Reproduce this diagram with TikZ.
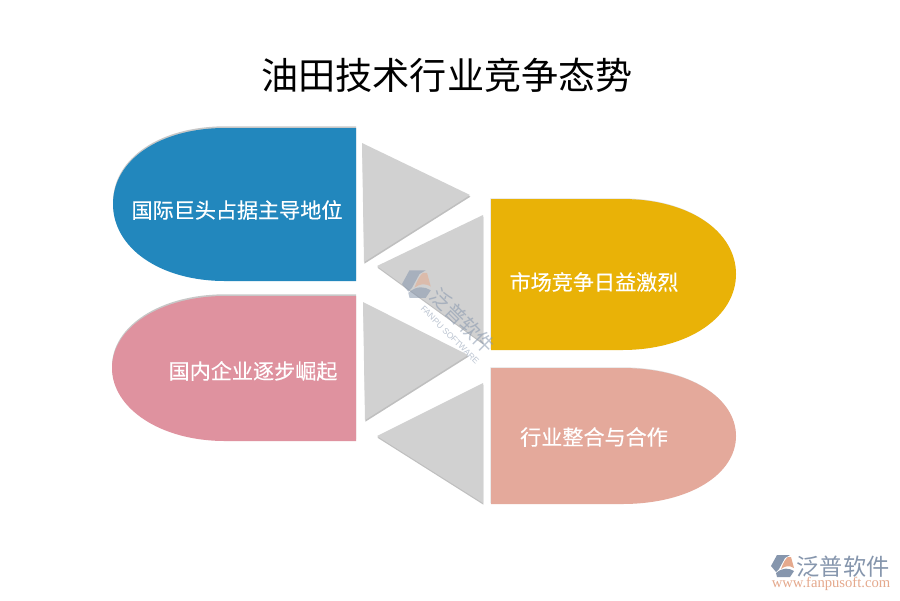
\documentclass[tikz,border=0pt]{standalone}
\usepackage{fontspec}
\newfontfamily\cjk{Noto Sans CJK SC}
\newfontfamily\cjkheavy[FakeBold=0.3]{Noto Sans CJK SC}
\setmainfont{Liberation Serif}
\setsansfont{Liberation Sans}
\usetikzlibrary{shadows}
\definecolor{tiblue}{HTML}{2287BD}
\definecolor{tiyellow}{HTML}{E9B207}
\definecolor{tipink}{HTML}{DF929F}
\definecolor{tisalmon}{HTML}{E4A99B}
\definecolor{tigray}{HTML}{D1D1D1}
\definecolor{logoblue}{HTML}{8696AD}
\definecolor{logored}{HTML}{E5A98D}
\tikzset{
	lefttab/.style={general shadow={shadow xshift=0pt,shadow yshift=1.2pt,fill=black,opacity=0.22}},
	righttab/.style={general shadow={shadow xshift=-0.5pt,shadow yshift=0.5pt,fill=black,opacity=0.12}},
	wedge/.style={fill=tigray,general shadow={shadow xshift=0.3pt,shadow yshift=-1.2pt,fill=black,opacity=0.25}},
	boxtext/.style={text=white,font=\cjkheavy\fontsize{15}{15}\selectfont,inner sep=0pt},
	pics/logomark/.style={code={
		\fill[logoblue] (-6,-11) -- (7,-11) -- (2,-8) -- (-4,3) -- (-7,6) -- (-12,0) -- cycle;
		\fill[logored] (-2,3) .. controls (0,-3) and (3,-8) .. (5,-9) -- (8,-9) -- (11,2) .. controls (6,-1) and (2,0) .. (-2,3) -- cycle;
		\fill[logoblue] (-7,7) .. controls (0,1) and (6,2) .. (11,5) -- (7,11) -- (-6,11) -- cycle;
	}}
}
\begin{document}
\begin{tikzpicture}[x=0.025cm,y=-0.025cm]
	\useasboundingbox (0,0) rectangle (900,600);
	\fill[white] (0,0) rectangle (900,600);
	\node (title) at (447,75) {\cjk\fontsize{26.4}{26.4}\selectfont 油田技术行业竞争态势};
	% left tabs
	\fill[tiblue,lefttab] (356,128) -- (225,128) .. controls (160,128) and (113,160) .. (113,204) .. controls (113,248) and (160,281) .. (225,281) -- (356,281) -- cycle;
	\fill[tipink,lefttab] (356,296) -- (225,296) .. controls (160,296) and (112,328) .. (112,368) .. controls (112,408) and (160,441) .. (225,441) -- (356,441) -- cycle;
	% right tabs
	\fill[tiyellow,righttab] (491,199) -- (622,199) .. controls (690,199) and (736,232) .. (736,274) .. controls (736,316) and (690,350) .. (622,350) -- (491,350) -- cycle;
	\fill[tisalmon,righttab] (491,368) -- (622,368) .. controls (690,368) and (736,398) .. (736,436) .. controls (736,474) and (690,504) .. (622,504) -- (491,504) -- cycle;
	% wedges
	\fill[wedge] (362,143) -- (470,195) -- (364,262) -- cycle;
	\fill[wedge] (483,215) -- (377,266) -- (483,343) -- cycle;
	\fill[wedge] (363,302) -- (468,355) -- (365,420) -- cycle;
	\fill[wedge] (483,383) -- (377,436) -- (483,503) -- cycle;
	% labels
	\node[boxtext] (intl) at (237,210) {国际巨头占据主导地位};
	\node[boxtext] (domestic) at (253,371) {国内企业逐步崛起};
	\node[boxtext] (market) at (594,282) {市场竞争日益激烈};
	\node[boxtext] (merge) at (594,437) {行业整合与合作};
	% watermark
	\begin{scope}[opacity=0.55]
		\pic[scale=1.25] at (417,284) {logomark};
		\node[rotate=-45,text=logoblue,inner sep=0pt] (wmark) at (463,321) {\cjk\fontsize{14.5}{14.5}\selectfont 泛普软件};
		\node[rotate=-45,text=logoblue,inner sep=0pt] (wmarken) at (450,335) {\sffamily\fontsize{6}{6}\selectfont FANPU SOFTWARE};
	\end{scope}
	% corner logo
	\pic at (783,566) {logomark};
	\node[text=logoblue] (brand) at (843,567) {\cjk\fontsize{16.5}{16.5}\selectfont 泛普软件};
	\node[text=logored] (site) at (831,584) {\fontsize{10.4}{10.4}\selectfont www.fanpusoft.com};
\end{tikzpicture}
\end{document}
